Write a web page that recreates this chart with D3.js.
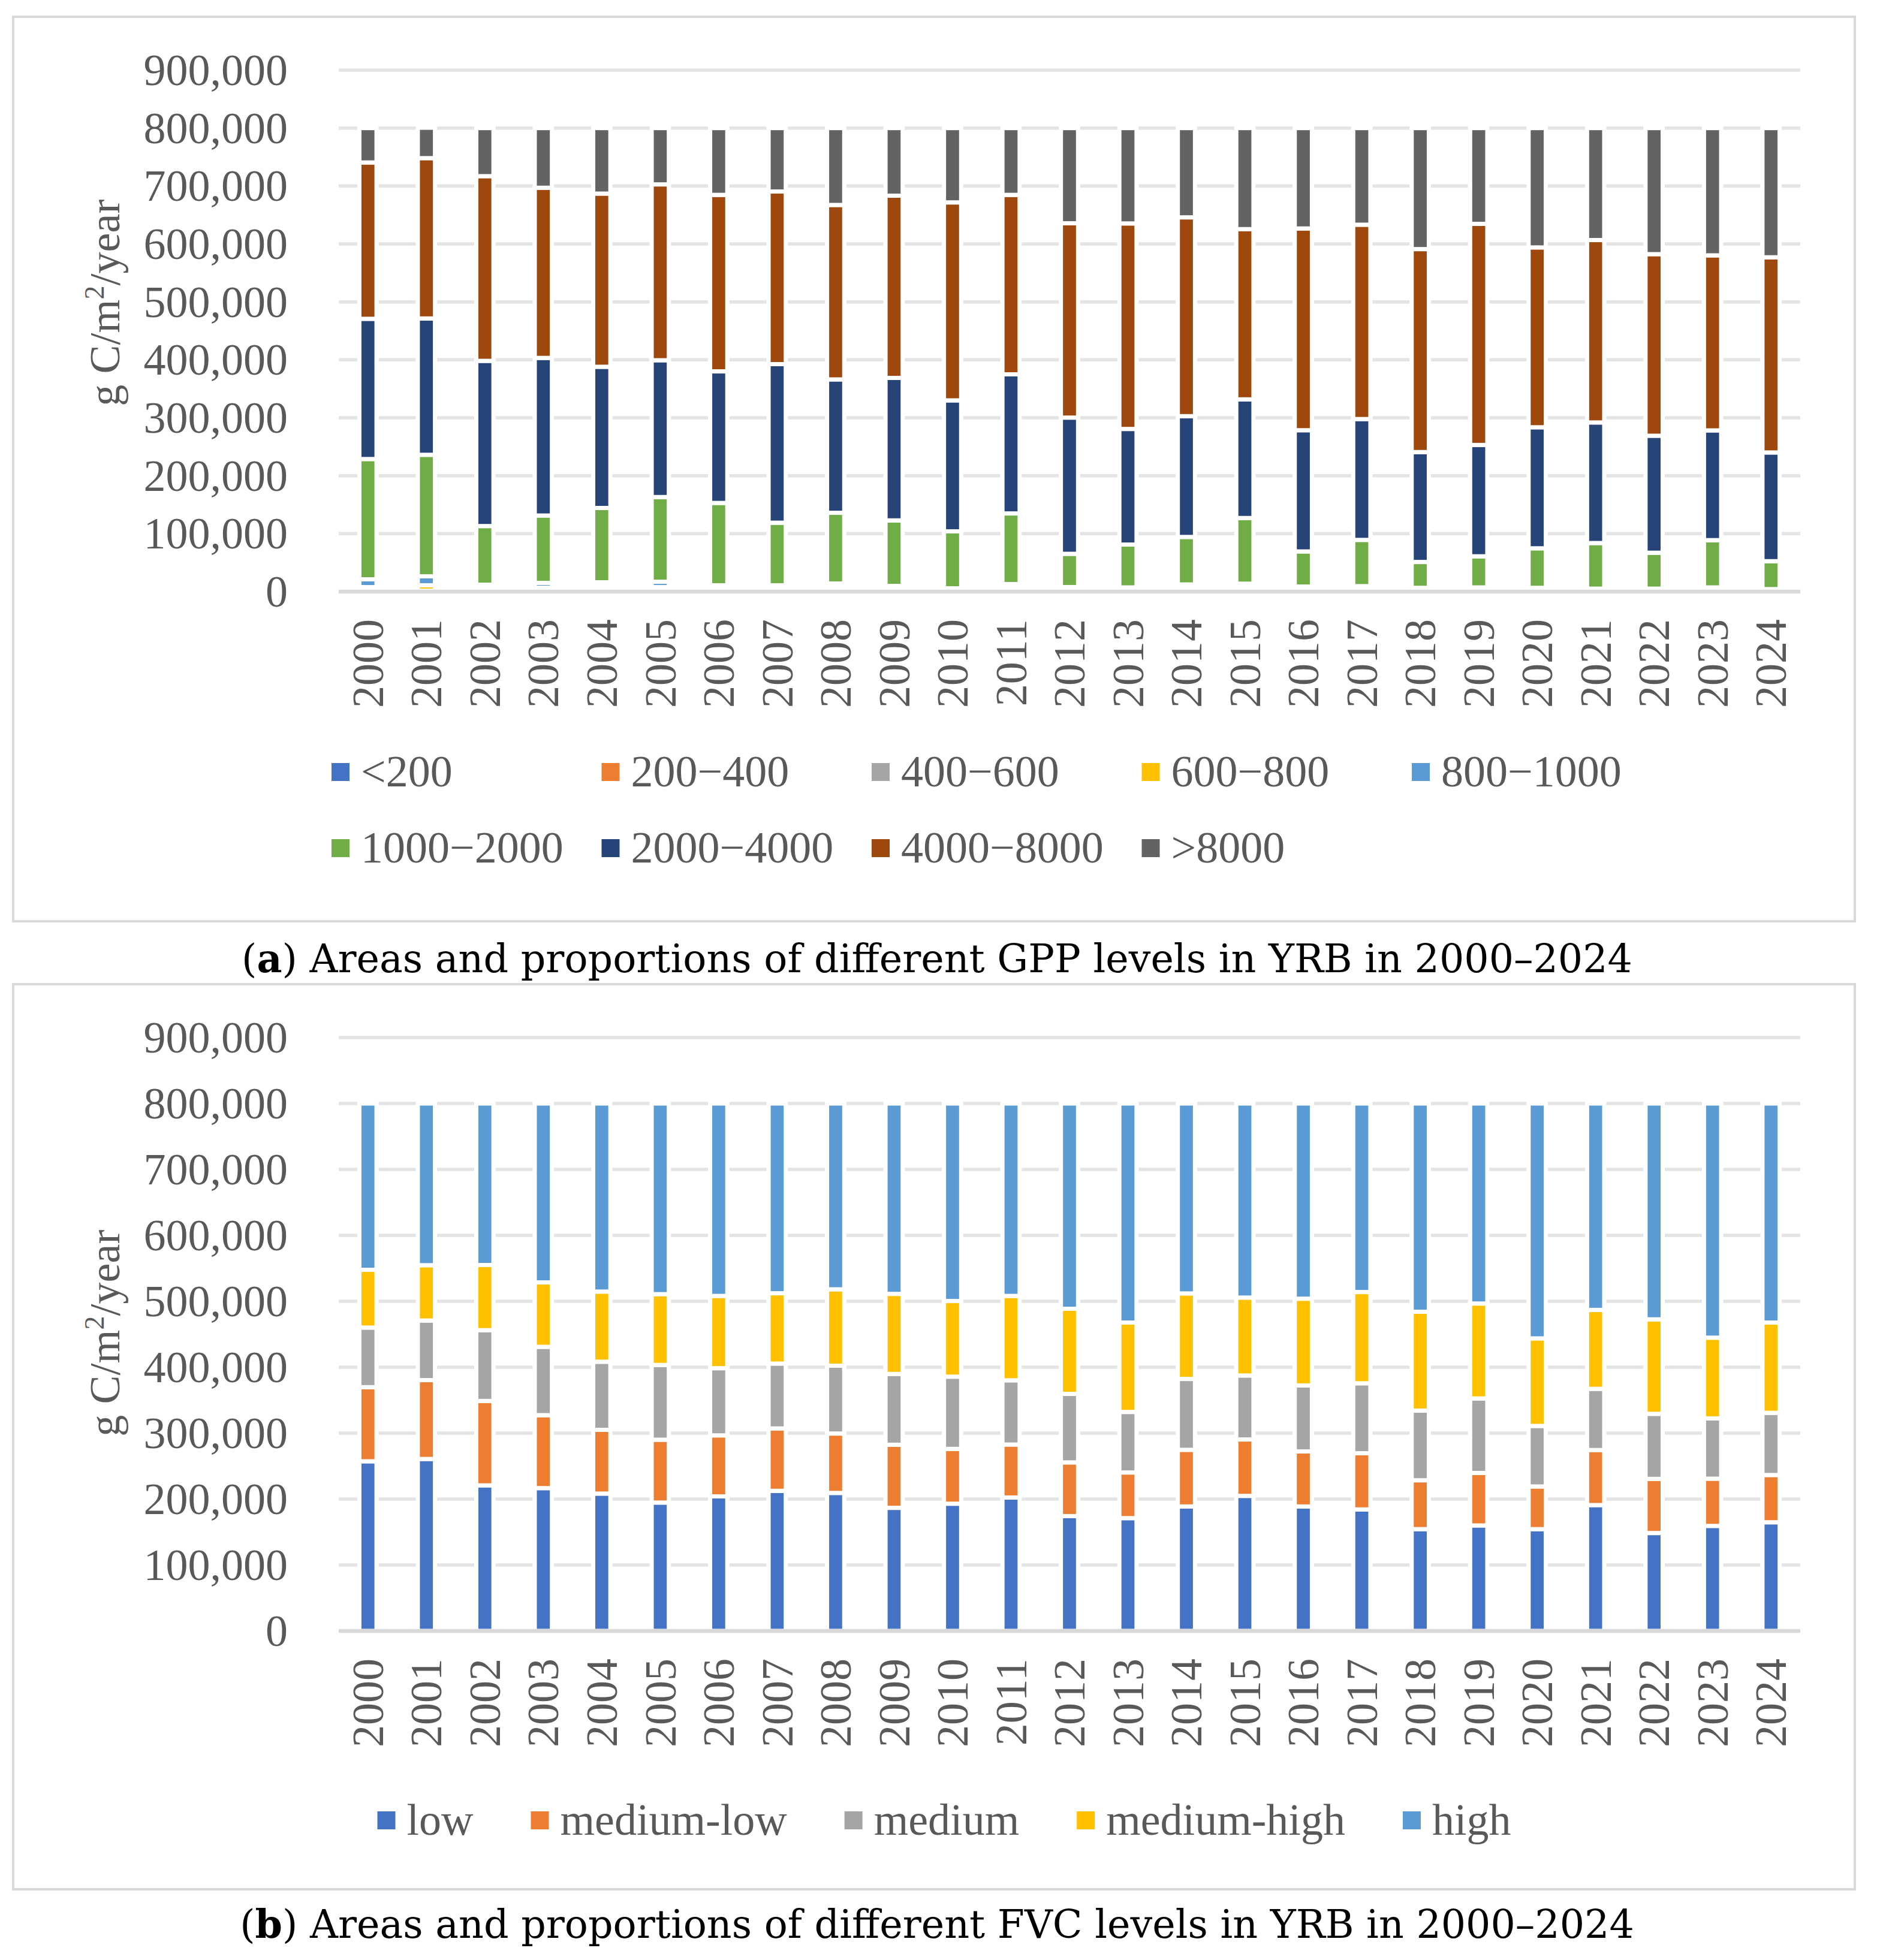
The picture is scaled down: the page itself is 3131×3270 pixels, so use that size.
<!DOCTYPE html>
<html>
<head>
<meta charset="utf-8">
<script src="https://cdn.jsdelivr.net/npm/d3@7/dist/d3.min.js"></script>
<style>
  body { margin: 0; background: #fff; }
</style>
</head>
<body>
<div id="chart"></div>
<script>
// Years on the x axis (both panels)
const years = ['2000', '2001', '2002', '2003', '2004', '2005', '2006', '2007', '2008', '2009',
    '2010', '2011', '2012', '2013', '2014', '2015', '2016', '2017', '2018', '2019',
    '2020', '2021', '2022', '2023', '2024'];

const yTicks = [0, 100000, 200000, 300000, 400000, 500000, 600000, 700000, 800000, 900000];

// Panel (a): GPP levels
const gppLevels = ['<200', '200\u2212400', '400\u2212600', '600\u2212800', '800\u22121000',
    '1000\u22122000', '2000\u22124000', '4000\u22128000', '>8000'];
const gppLt200 = [1700, 500, 900, 700, 1000, 700, 600, 600, 800, 500, 300, 700, 400, 400, 600, 700, 400, 500, 300, 400, 300, 200, 200, 400, 200];
const gpp200_400 = [2000, 500, 1000, 1000, 1500, 1000, 800, 900, 1000, 700, 500, 900, 600, 600, 900, 1000, 700, 700, 500, 500, 500, 400, 400, 600, 400];
const gpp400_600 = [1000, 600, 1500, 1500, 2500, 2000, 1500, 1400, 2000, 1300, 800, 1800, 1100, 1000, 1700, 2000, 1200, 1300, 900, 1000, 900, 700, 700, 1000, 600];
const gpp600_800 = [3000, 9300, 3500, 3500, 5000, 4000, 3000, 3200, 4200, 2800, 1600, 3800, 2200, 2000, 3600, 4000, 2500, 2700, 1900, 2100, 1900, 1500, 1500, 2000, 1200];
const gpp800_1000 = [13500, 15500, 5000, 8300, 6000, 9300, 5000, 4800, 6000, 4500, 2500, 5800, 3500, 3200, 5500, 6000, 3900, 4200, 2900, 3200, 2900, 2300, 2300, 3200, 1900];
const gpp1000_2000 = [207600, 209700, 101200, 116300, 128300, 146200, 142100, 108000, 122000, 113100, 98300, 121900, 57400, 74000, 82000, 113300, 60600, 79800, 44600, 53700, 68200, 78700, 62000, 81600, 48200];
const gpp2000_4000 = [242000, 235300, 285100, 272000, 243700, 236100, 227100, 273700, 230200, 245900, 226000, 240100, 235100, 199500, 208500, 204800, 209200, 208600, 189700, 192200, 208900, 208100, 201900, 189400, 187600];
const gpp4000_8000 = [269800, 276700, 318800, 293700, 298900, 303500, 304600, 297900, 301100, 314500, 341700, 309700, 335400, 354700, 343100, 293800, 348200, 335400, 350300, 381600, 310400, 314800, 313400, 302100, 336900];
const gppGt8000 = [59400, 52500, 83000, 103000, 113100, 97200, 115300, 109500, 132700, 116700, 128300, 115300, 164300, 164600, 154100, 174400, 173300, 166800, 208900, 165300, 206000, 193300, 217600, 219700, 223000];
const gppColors = ['#4472C4', '#ED7D31', '#A5A5A5', '#FFC000', '#5B9BD5', '#70AD47', '#264478', '#9E480E', '#636363'];

// Panel (b): FVC levels
const fvcLevels = ['low', 'medium-low', 'medium', 'medium-high', 'high'];
const fvcLow = [257300, 260800, 220800, 216600, 208300, 194700, 204100, 212500, 209300, 186700, 193000, 202400, 174200, 171100, 188800, 204800, 188800, 184300, 154400, 160000, 154400, 190900, 148500, 159300, 164800];
const fvcMediumLow = [112400, 119600, 128000, 110600, 96700, 95300, 92500, 94600, 90100, 95700, 83100, 80300, 81400, 69200, 85900, 85600, 83500, 85200, 74100, 79600, 64700, 83500, 82100, 71600, 71700];
const fvcMedium = [90400, 90400, 107400, 103700, 103300, 113400, 101900, 98400, 102900, 107400, 109600, 97400, 104000, 91800, 107500, 97000, 100100, 106100, 105700, 113000, 91800, 92800, 98700, 91500, 94300];
const fvcMediumHigh = [87600, 83900, 98800, 97700, 106400, 107400, 109600, 106700, 115800, 121400, 114700, 128000, 129000, 135600, 129700, 118200, 131500, 138400, 149900, 144000, 132800, 119700, 143300, 122400, 136900];
const fvcHigh = [252300, 245300, 245000, 271400, 285300, 289200, 291900, 287800, 281900, 288800, 299600, 291900, 311400, 332300, 288100, 294400, 296100, 286000, 315900, 303400, 356300, 313100, 327400, 355200, 332300];
const fvcColors = ['#4472C4', '#ED7D31', '#A5A5A5', '#FFC000', '#5B9BD5'];

const W = 3131, H = 3270;
const FONT = '"Liberation Serif", "Times New Roman", serif';
const TEXT = '#595959';

const svg = d3.select('#chart')
    .append('svg')
    .attr('width', W)
    .attr('height', H)
    .style('font-family', FONT)
    .style('background', '#fff');

function drawPanel(o) {
    const g = svg.append('g');

    // outer frame
    g.append('rect')
        .attr('x', o.frame[0]).attr('y', o.frame[1])
        .attr('width', o.frame[2]).attr('height', o.frame[3])
        .attr('fill', '#fff')
        .attr('stroke', '#d9d9d9')
        .attr('stroke-width', 4);

    const x = d3.scaleBand()
        .domain(years)
        .range([565, 3003])
        .paddingInner(0.706)
        .paddingOuter(0.353);

    const y = d3.scaleLinear()
        .domain([0, 900000])
        .range([o.yBottom, o.yTop]);

    // gridlines
    g.append('g').selectAll('line')
        .data(yTicks.filter(t => t > 0))
        .join('line')
        .attr('x1', 565).attr('x2', 3003)
        .attr('y1', d => y(d)).attr('y2', d => y(d))
        .attr('stroke', '#e4e4e4')
        .attr('stroke-width', 5.5);

    // y tick labels
    g.append('g').selectAll('text')
        .data(yTicks)
        .join('text')
        .attr('x', 480)
        .attr('y', d => y(d))
        .attr('dy', '0.34em')
        .attr('text-anchor', 'end')
        .attr('font-size', 74)
        .attr('fill', TEXT)
        .text(d3.format(','));

    // y title
    const title = g.append('text')
        .attr('transform', `translate(199, ${o.titleY}) rotate(-90)`)
        .attr('text-anchor', 'middle')
        .attr('font-size', 72)
        .attr('fill', TEXT);
    title.append('tspan').text('g C/m');
    title.append('tspan').attr('font-size', 46).attr('dy', -26).text('2');
    title.append('tspan').attr('dy', 26).text('/year');

    // stacked bars
    const rows = years.map((yr, i) => ({ year: yr, values: o.series.map(s => s[i]) }));
    const stacked = d3.stack()
        .keys(d3.range(o.series.length))
        .value((d, k) => d.values[k])(rows);

    g.append('g').selectAll('g')
        .data(stacked)
        .join('g')
        .attr('fill', (d, i) => o.colors[i])
        .selectAll('rect')
        .data(d => d)
        .join('rect')
        .attr('x', d => x(d.data.year))
        .attr('y', d => y(d[1]))
        .attr('width', x.bandwidth())
        .attr('height', d => y(d[0]) - y(d[1]))
        .attr('stroke', '#fff')
        .attr('stroke-width', 7);

    // category axis line
    g.append('line')
        .attr('x1', 565).attr('x2', 3003)
        .attr('y1', o.yBottom).attr('y2', o.yBottom)
        .attr('stroke', '#d9d9d9')
        .attr('stroke-width', 6.5);

    // year labels
    g.append('g').selectAll('text')
        .data(years)
        .join('text')
        .attr('transform', d => `translate(${x(d) + x.bandwidth() / 2}, ${o.yBottom + 46}) rotate(-90)`)
        .attr('dy', '0.34em')
        .attr('text-anchor', 'end')
        .attr('font-size', 74)
        .attr('fill', TEXT)
        .text(d => d);

    // legend
    const leg = g.append('g');
    const items = leg.selectAll('g')
        .data(o.labels)
        .join('g');
    items.append('rect')
        .attr('width', 30).attr('height', 30)
        .attr('y', -15)
        .attr('fill', (d, i) => o.colors[i]);
    items.append('text')
        .attr('x', 49)
        .attr('dy', '0.33em')
        .attr('font-size', 74)
        .attr('fill', TEXT)
        .text(d => d);

    if (o.legendGrid) {
        items.attr('transform', (d, i) =>
            `translate(${553 + (i % 5) * 450.5}, ${o.legendRows[Math.floor(i / 5)]})`);
    } else {
        // single row, laid out by text width and centred
        const gap = 96;
        const widths = [];
        items.select('text').each(function () { widths.push(49 + this.getComputedTextLength()); });
        const total = d3.sum(widths) + gap * (widths.length - 1);
        let cx = o.legendCenter - total / 2;
        items.attr('transform', (d, i) => {
            const t = `translate(${cx}, ${o.legendRows[0]})`;
            cx += widths[i] + gap;
            return t;
        });
    }

    // caption below the frame
    const cap = svg.append('text')
        .attr('x', 1563)
        .attr('y', o.captionY)
        .attr('text-anchor', 'middle')
        .attr('font-family', '"DejaVu Serif", serif')
        .attr('font-size', 65)
        .attr('fill', '#000');
    cap.append('tspan').text('(');
    cap.append('tspan').attr('font-weight', 'bold').text(o.captionTag);
    cap.append('tspan').text(') ' + o.caption);
}

drawPanel({
    frame: [22, 28, 3072, 1509],
    yTop: 117,
    yBottom: 987,
    titleY: 505,
    series: [gppLt200, gpp200_400, gpp400_600, gpp600_800, gpp800_1000, gpp1000_2000, gpp2000_4000, gpp4000_8000, gppGt8000],
    colors: gppColors,
    labels: gppLevels,
    legendGrid: true,
    legendRows: [1288, 1415],
    captionY: 1622,
    captionTag: 'a',
    caption: 'Areas and proportions of different GPP levels in YRB in 2000\u20132024'
});

drawPanel({
    frame: [22, 1642, 3072, 1510],
    yTop: 1731,
    yBottom: 2721,
    titleY: 2224,
    series: [fvcLow, fvcMediumLow, fvcMedium, fvcMediumHigh, fvcHigh],
    colors: fvcColors,
    labels: fvcLevels,
    legendGrid: false,
    legendRows: [3037],
    legendCenter: 1575,
    captionY: 3233,
    captionTag: 'b',
    caption: 'Areas and proportions of different FVC levels in YRB in 2000\u20132024'
});
</script>
</body>
</html>
